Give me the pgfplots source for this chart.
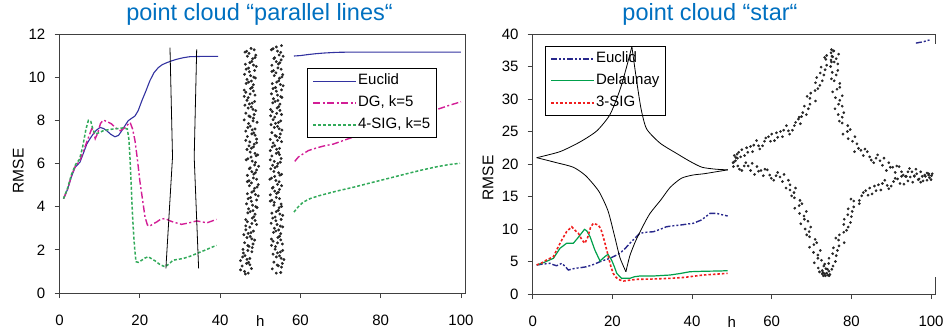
\documentclass[border=0pt]{standalone}
\usepackage{fontspec}
\setmainfont{Liberation Sans}
\usepackage{pgfplots}
\pgfplotsset{compat=1.18}
\definecolor{titleblue}{RGB}{0,112,192}
\definecolor{eucL}{RGB}{50,50,160}
\definecolor{dgmag}{RGB}{210,30,150}
\definecolor{sigG}{RGB}{50,170,90}
\definecolor{eucR}{RGB}{40,40,140}
\definecolor{delG}{RGB}{0,160,75}
\definecolor{sigR}{RGB}{240,30,30}
\tikzset{
  sEucL/.style={line width=1.1pt, draw=eucL},
  sDG/.style={dash pattern=on 7pt off 2.5pt on 2pt off 2.5pt, line width=1.4pt, draw=dgmag},
  sSigG/.style={dash pattern=on 3pt off 2pt, line width=1.5pt, draw=sigG},
  sEucR/.style={dash pattern=on 6pt off 2pt on 2pt off 2pt on 2pt off 2pt, line width=1.4pt, draw=eucR},
  sDel/.style={line width=1.2pt, draw=delG},
  sSigR/.style={dash pattern=on 2.5pt off 2pt, line width=1.6pt, draw=sigR},
}
\pgfplotsset{
  common/.style={
    scale only axis, anchor=south west, xmin=0, xmax=101,
    axis line style={black!75, line width=0.9pt},
    tick style={black!75, line width=0.9pt},
    tick align=outside, major tick length=5pt,
    xtick pos=bottom, ytick pos=left,
    xtick={0,20,40,60,80,100},
    extra x ticks={50}, extra x tick labels={h},
    extra x tick style={tick style={draw=none}},
    ticklabel style={font=\fontsize{15}{18}\selectfont, text=black},
    /pgf/number format/assume math mode=true,
    xticklabel style={anchor=north, inner sep=0pt, yshift=-17pt},
    yticklabel style={anchor=east, inner sep=0pt, xshift=-9pt},
    label style={font=\fontsize{15.5}{18}\selectfont},
    title style={anchor=base, inner sep=0pt, yshift=7.3pt,
      font=\fontsize{23.5}{28}\selectfont, text=titleblue},
    legend cell align=left,
  },
  legbox/.style={
    line width=0.8pt, fill=white,
    font=\fontsize{15}{18}\selectfont,
    inner xsep=5pt, inner ysep=4.5pt, row sep=6pt,
    nodes={inner sep=1pt, text height=10.8pt, text depth=3.2pt},
  },
  cloud/.style={only marks, mark=*, mark size=1.25pt, draw=black!85, fill=black!85, forget plot},
  limg/.style={legend image code/.code={\draw[#1] (0pt,0pt) -- (43pt,0pt);}},
}
\begin{document}
\begin{tikzpicture}
\path[use as bounding box] (0,0) rectangle (946pt,330pt);
% ---------------- left panel ----------------
\begin{axis}[common, at={(59.5pt,37pt)}, width=405.5pt, height=259pt,
  ymin=0, ymax=12, ytick={0,2,4,6,8,10,12},
  title={point cloud “parallel lines“}, title style={at={(0.4932,1)}},
  ylabel={RMSE}, ylabel style={at={(axis description cs:-0.1016,0.471)}, anchor=center},
  legend style={legbox, at={(0.611,0.8676)}, anchor=north west},
]
\addplot[sEucL, limg=sEucL] coordinates {
(1,4.37) (2,4.8) (3,5.4) (3.9,5.83) (5.1,6.06) (6,6.5) (6.8,6.9) (7.6,7.15) (8.4,7.37) (9.2,7.55) (10.1,7.67) (11,7.62) (11.75,7.52) (12.8,7.35) (13.8,7.24) (14.7,7.3) (15.5,7.52) (16.3,7.75) (17.1,7.98) (18,8.1) (18.8,8.2) (19.6,8.45) (20.5,8.9) (21.5,9.35) (22.5,9.83) (23.5,10.2) (24.6,10.44) (25.6,10.58) (26.7,10.67) (28,10.76) (29.2,10.83) (30.8,10.9) (32.5,10.95) (35,10.96) (39.5,10.96)};
\addlegendentry{Euclid}
\addplot[sDG, limg=sDG] coordinates {
(1,4.37) (2,4.8) (3,5.45) (4,5.9) (5,6.1) (6,6.6) (7,7.1) (8,7.6) (8.5,7.45) (8.9,7.15) (9.5,7.4) (10.2,7.85) (10.9,8.01) (11.8,7.95) (13,7.83) (14,7.65) (15.1,7.52) (16,7.62) (16.7,7.75) (17.6,7.9) (18.2,7.6) (18.8,7.06) (19.4,6.2) (20,5.21) (20.7,4.3) (21.3,3.52) (21.9,3.15) (22.4,3.09) (23.3,3.2) (24.2,3.29) (25.2,3.42) (26.3,3.45) (27.3,3.36) (28.3,3.29) (30.4,3.18) (32.3,3.25) (34.2,3.34) (36.7,3.25) (39.1,3.41)};
\addlegendentry{DG, k=5}
\addplot[sSigG, limg=sSigG] coordinates {
(1,4.37) (2,4.85) (3,5.5) (4,5.95) (5,6.2) (5.8,6.8) (6.6,7.6) (7.2,8.0) (7.8,7.95) (8.3,7.6) (8.84,7.37) (9.8,7.42) (10.9,7.52) (12,7.56) (13.4,7.6) (14.6,7.62) (15.9,7.65) (16.9,7.6) (17.3,7.1) (17.55,6.29) (17.8,5.3) (17.98,4.44) (18.2,3.6) (18.4,2.9) (18.7,2.1) (19.05,1.45) (19.6,1.42) (20.5,1.52) (21.3,1.62) (22.1,1.68) (23,1.58) (23.8,1.49) (25,1.32) (26.3,1.21) (27.3,1.35) (28.3,1.52) (30.8,1.6) (32.5,1.7) (34.2,1.83) (36.7,2.02) (39.1,2.21)};
\addlegendentry{4-SIG, k=5}
\addplot[sEucL, forget plot] coordinates {
(58.4,10.98) (60,11.0) (62,11.05) (64,11.09) (66,11.12) (69,11.15) (72,11.16) (100,11.16)};
\addplot[sDG, forget plot] coordinates {
(58.6,6.1) (59.5,6.3) (60.7,6.45) (62,6.6) (64,6.72) (66,6.82) (68.2,6.9) (72,7.15) (76,7.4) (80,7.65) (84,7.9) (88,8.15) (91,8.33) (94.3,8.52) (97,8.69) (100,8.86)};
\addplot[sSigG, forget plot] coordinates {
(58.4,3.75) (59.5,4.0) (60.7,4.21) (62.5,4.38) (64.9,4.52) (69,4.72) (73.2,4.9) (77,5.08) (81.5,5.29) (85.5,5.48) (89.8,5.68) (94,5.85) (97,5.95) (99.75,6.01)};
% sketch of two lines
\addplot[draw=black, line width=0.8pt, forget plot] coordinates {(27.52,11.37) (28.15,6.3) (26.5,1.14)};
\addplot[draw=black, line width=0.8pt, forget plot] coordinates {(34.17,11.29) (33.55,6.3) (34.65,1.14)};
% point cloud band 1
\addplot[cloud] coordinates {
(46.6,11.20) (47.7,11.33) (48.5,11.27) (47.2,11.10) (48.9,11.02) (46.2,11.16) (48.1,10.85) (46.8,10.97) (48.7,10.91)
(46.3,10.60) (47.9,10.73) (47.4,10.67) (49.0,10.50) (47.1,10.42) (48.3,10.56) (47.3,10.25) (46.5,10.37) (48.6,10.31)
(48.4,10.00) (46.1,10.13) (47.6,10.07) (46.7,9.90) (47.8,9.82) (48.8,9.96) (48.3,9.65) (47.1,9.77) (46.5,9.71)
(46.0,9.40) (48.0,9.53) (47.6,9.47) (46.4,9.30) (47.5,9.22) (48.3,9.36) (47.0,9.05) (48.7,9.17) (46.0,9.11)
(48.0,8.80) (46.7,8.93) (48.6,8.87) (46.2,8.70) (47.8,8.62) (47.3,8.76) (48.9,8.45) (47.0,8.57) (48.2,8.51)
(47.2,8.20) (46.4,8.33) (48.5,8.27) (48.3,8.10) (46.0,8.02) (47.5,8.16) (47.1,7.85) (48.2,7.97) (49.2,7.91)
(48.7,7.60) (47.5,7.73) (46.9,7.67) (46.4,7.50) (48.4,7.42) (48.0,7.56) (46.8,7.25) (47.9,7.37) (48.7,7.31)
(47.4,7.00) (49.1,7.13) (46.4,7.07) (48.5,6.90) (47.2,6.82) (49.1,6.96) (46.7,6.65) (48.3,6.77) (47.8,6.71)
(49.4,6.40) (47.5,6.53) (48.7,6.47) (47.7,6.30) (46.9,6.22) (49.0,6.36) (48.8,6.05) (46.5,6.17) (48.0,6.11)
(47.5,5.80) (48.6,5.93) (49.6,5.87) (49.1,5.70) (47.9,5.62) (47.3,5.76) (46.8,5.45) (48.8,5.57) (48.4,5.51)
(47.2,5.20) (48.3,5.33) (49.1,5.27) (47.8,5.10) (49.5,5.02) (46.8,5.16) (48.6,4.85) (47.3,4.97) (49.2,4.91)
(46.8,4.60) (48.4,4.73) (47.9,4.67) (49.5,4.50) (47.6,4.42) (48.8,4.56) (47.8,4.25) (47.0,4.37) (49.1,4.31)
(48.9,4.00) (46.6,4.13) (48.1,4.07) (47.1,3.90) (48.2,3.82) (49.2,3.96) (48.7,3.65) (47.5,3.77) (46.9,3.71)
(46.4,3.40) (48.4,3.53) (48.0,3.47) (46.8,3.30) (47.9,3.22) (48.7,3.36) (47.4,3.05) (49.1,3.17) (46.4,3.11)
(47.7,2.80) (46.4,2.93) (48.3,2.87) (45.9,2.70) (47.5,2.62) (47.0,2.76) (48.6,2.45) (46.7,2.57) (47.9,2.51)
(46.9,2.20) (46.1,2.33) (48.2,2.27) (48.0,2.10) (45.7,2.02) (47.2,2.16) (45.8,1.85) (46.9,1.97) (47.9,1.91)
(47.4,1.60) (46.2,1.73) (45.6,1.67) (45.1,1.50) (47.1,1.42) (46.7,1.56) (45.5,1.25) (46.6,1.37) (47.4,1.31)
(46.1,1.00) (47.8,1.13) (45.1,1.07) (46.3,0.88) (47.0,0.92)};
% point cloud band 2
\addplot[cloud] coordinates {
(54.0,11.40) (53.2,11.32) (55.3,11.46) (55.1,11.15) (52.8,11.27) (54.3,11.21) (53.6,10.90) (54.7,11.03) (55.7,10.97)
(55.2,10.80) (54.0,10.72) (53.4,10.86) (52.9,10.55) (54.9,10.67) (54.5,10.61) (53.3,10.30) (54.4,10.43) (55.2,10.37)
(53.9,10.20) (55.6,10.12) (52.9,10.26) (54.8,9.95) (53.5,10.07) (55.4,10.01) (53.0,9.70) (54.6,9.83) (54.1,9.77)
(55.7,9.60) (53.8,9.52) (55.0,9.66) (54.0,9.35) (53.2,9.47) (55.3,9.41) (55.1,9.10) (52.8,9.23) (54.3,9.17)
(53.3,9.00) (54.4,8.92) (55.4,9.06) (54.9,8.75) (53.7,8.87) (53.1,8.81) (52.6,8.50) (54.6,8.63) (54.2,8.57)
(53.0,8.40) (54.1,8.32) (54.9,8.46) (53.6,8.15) (55.3,8.27) (52.6,8.21) (54.5,7.90) (53.2,8.03) (55.1,7.97)
(52.7,7.80) (54.3,7.72) (53.8,7.86) (55.4,7.55) (53.5,7.67) (54.7,7.61) (53.7,7.30) (52.9,7.43) (55.0,7.37)
(54.8,7.20) (52.5,7.12) (54.0,7.26) (53.2,6.95) (54.3,7.07) (55.3,7.01) (54.8,6.70) (53.6,6.83) (53.0,6.77)
(52.5,6.60) (54.5,6.52) (54.1,6.66) (52.9,6.35) (54.0,6.47) (54.8,6.41) (53.5,6.10) (55.2,6.23) (52.5,6.17)
(54.4,6.00) (53.1,5.92) (55.0,6.06) (52.6,5.75) (54.2,5.87) (53.7,5.81) (55.3,5.50) (53.4,5.63) (54.6,5.57)
(53.6,5.40) (52.8,5.32) (54.9,5.46) (54.7,5.15) (52.4,5.27) (53.9,5.21) (53.2,4.90) (54.3,5.03) (55.3,4.97)
(54.8,4.80) (53.6,4.72) (53.0,4.86) (52.5,4.55) (54.5,4.67) (54.1,4.61) (52.9,4.30) (54.0,4.43) (54.8,4.37)
(53.5,4.20) (55.2,4.12) (52.5,4.26) (54.7,3.95) (53.4,4.07) (55.3,4.01) (52.9,3.70) (54.5,3.83) (54.0,3.77)
(55.6,3.60) (53.7,3.52) (54.9,3.66) (53.9,3.35) (53.1,3.47) (55.2,3.41) (55.0,3.10) (52.7,3.23) (54.2,3.17)
(53.5,3.00) (54.6,2.92) (55.6,3.06) (55.1,2.75) (53.9,2.87) (53.3,2.81) (52.8,2.50) (54.8,2.63) (54.4,2.57)
(53.2,2.40) (54.3,2.32) (55.1,2.46) (53.8,2.15) (55.5,2.27) (52.8,2.21) (55.0,1.90) (53.7,2.03) (55.6,1.97)
(53.2,1.80) (54.8,1.72) (54.3,1.86) (55.9,1.55) (54.0,1.67) (55.2,1.61) (54.2,1.30) (53.4,1.43) (55.5,1.37)
(55.3,1.20) (53.0,1.12) (54.5,1.26) (54.0,0.92) (55.1,0.95)};
\end{axis}
% ---------------- right panel ----------------
\begin{axis}[common, at={(532.7pt,36pt)}, width=402.3pt, height=260pt,
  ymin=0, ymax=40, ytick={0,5,10,15,20,25,30,35,40},
  title={point cloud “star“}, title style={at={(0.4407,1)}},
  ylabel={RMSE}, ylabel style={at={(axis description cs:-0.111,0.446)}, anchor=center},
  legend style={legbox, at={(0.0306,0.954)}, anchor=north west},
]
\addplot[sEucR, limg=sEucR] coordinates {
(1,4.46) (2.5,4.6) (4.35,4.72) (5.2,4.5) (6,4.35) (7.3,4.72) (8.2,4.2) (8.95,3.69) (10.6,3.95) (12,4.05) (13.6,4.2) (15.3,4.55) (16.9,4.97) (18.2,5.25) (19.4,5.49) (20.6,5.85) (21.9,6.26) (23.2,7.0) (24.4,7.8) (25.7,8.6) (26.9,9.34) (28.5,9.5) (30.3,9.58) (32,9.95) (33.6,10.35) (35.3,10.5) (37,10.6) (38.7,10.75) (40.3,10.87) (42.4,11.4) (44.5,12.4) (46.2,12.4) (47.5,12.2) (48.95,12.0)};
\addlegendentry{Euclid}
\addplot[sDel, limg=sDel] coordinates {
(1,4.46) (3,4.9) (5.2,5.49) (6.85,7.03) (8.5,7.8) (10.2,7.8) (11.45,8.72) (13.0,9.95) (13.6,9.7) (14.4,8.82) (15.6,6.77) (16.9,5.08) (18.1,5.74) (18.9,6.1) (19.8,5.23) (20.5,4.2) (21.1,3.18) (22.3,2.41) (24.4,2.41) (25.5,2.65) (26.9,2.77) (30.3,2.77) (34.5,2.92) (37,3.15) (39.5,3.43) (43,3.5) (47,3.54) (48.95,3.59)};
\addlegendentry{Delaunay}
\addplot[sSigR, limg=sSigR] coordinates {
(1,4.46) (2.3,4.8) (3.5,5.23) (5.2,5.74) (6.0,6.77) (7.3,8.3) (8.5,9.58) (9.8,10.35) (10.6,9.8) (11.5,9.3) (12.4,8.3) (13.1,7.8) (13.8,8.7) (14.5,10.2) (15.2,10.87) (16.5,10.6) (17.1,10.0) (17.7,8.82) (18.4,7.2) (19.0,5.74) (19.6,4.3) (20.2,3.18) (21.0,2.5) (21.9,2.15) (22.8,2.0) (24,2.1) (26.1,2.26) (30,2.3) (34.5,2.41) (38,2.55) (42.8,2.92) (46,3.05) (48.95,3.18)};
\addlegendentry{3-SIG}
\addplot[sEucR, forget plot] coordinates {
(96.2,38.6) (98,38.8) (100,39.15)};
\end{axis}
% overlay: star sketch and star point cloud
\begin{axis}[scale only axis, anchor=south west, at={(532.7pt,36pt)}, width=402.3pt, height=260pt,
  xmin=0, xmax=101, ymin=0, ymax=40, hide axis, clip=false]
\addplot[fill=white, draw=none, forget plot] coordinates {(49.6,2.6) (102,2.6) (102,38.4) (49.6,38.4)} -- cycle;
\addplot[draw=black, line width=0.8pt, smooth, tension=0.4, forget plot] coordinates {
(1,20.97) (6.85,21.9) (11.9,23.4) (16.1,25.1) (19.4,27.6) (21.9,31.4) (23.6,35.0) (24.9,38.05)};
\addplot[draw=black, line width=0.8pt, smooth, tension=0.4, forget plot] coordinates {
(24.9,38.05) (26.0,33.2) (27.2,28.5) (28.6,25.4) (32.0,23.2) (36.2,21.6) (39.5,20.4) (42.5,19.5) (46,19.2) (49,19.1)};
\addplot[draw=black, line width=0.8pt, smooth, tension=0.4, forget plot] coordinates {
(1,20.97) (6.0,20.2) (10.2,19.5) (13.3,18.2) (16.6,15.8) (18.9,12.8) (20.6,8.8) (21.9,5.6) (23.4,3.43)};
\addplot[draw=black, line width=0.8pt, smooth, tension=0.4, forget plot] coordinates {
(23.4,3.43) (24.4,5.9) (25.8,8.1) (27.6,10.35) (29.45,12.4) (32.2,14.5) (34.5,16.4) (37.3,17.8) (40.2,18.3) (43,18.5) (46,18.8) (49,19.1)};
\addplot[cloud, mark size=1.15pt] coordinates {
(50.5,20.3) (51.0,21.0) (51.3,21.5) (51.7,21.8) (52.2,21.1) (52.5,22.2) (53.2,21.3) (53.7,22.5) (54.0,21.8)
(54.7,22.7) (55.2,21.9) (55.5,22.9) (56.2,23.6) (56.7,22.8) (57.0,22.3) (57.7,22.8) (58.2,23.5) (58.5,24.0)
(59.2,24.2) (59.7,23.5) (60.0,24.6) (60.7,23.6) (61.2,24.8) (61.5,24.1) (62.2,25.0) (62.7,24.2) (63.0,25.2)
(63.7,25.9) (64.2,25.1) (64.5,24.6) (65.2,25.2) (65.7,25.9) (66.0,26.4) (66.7,26.9) (67.2,26.2) (67.5,27.3)
(66.9,27.2) (68.7,27.6) (67.8,27.9) (69.2,28.5) (68.2,28.9) (69.6,29.2) (71.0,29.7) (69.6,30.1) (68.9,30.4)
(69.8,30.9) (70.9,31.3) (71.6,31.6) (72.1,32.1) (71.0,32.5) (72.7,32.8) (71.3,33.3) (73.1,33.7) (72.2,34.0)
(73.4,34.5) (72.4,34.9) (73.8,35.2) (75.0,35.7) (73.6,36.1) (73.3,36.4) (73.8,36.7) (74.9,37.1) (75.6,37.4)
(76.2,36.2) (75.1,36.6) (76.8,36.9) (74.8,35.0) (76.6,35.4) (75.7,35.7) (76.2,33.7) (75.2,34.1) (76.6,34.4)
(77.1,32.4) (75.7,32.8) (75.0,33.1) (75.3,31.1) (76.4,31.5) (77.1,31.8) (77.1,29.8) (76.0,30.2) (77.7,30.5)
(75.9,28.5) (77.7,28.9) (76.8,29.2) (77.7,27.2) (76.7,27.6) (78.1,27.9) (79.1,25.9) (77.7,26.3) (77.0,26.6)
(77.9,24.6) (79.0,25.0) (79.7,25.3) (80.3,23.5) (79.2,23.9) (80.9,24.2)
(80.8,21.9) (81.4,23.1) (81.8,22.4) (82.4,22.1) (83.0,21.3) (83.4,22.3) (84.0,21.9) (84.6,21.1) (85.0,20.6)
(85.6,20.2) (86.2,20.9) (86.6,21.4) (87.2,20.5) (87.8,19.8) (88.2,20.9) (88.8,19.0) (89.4,20.2) (89.8,19.5)
(90.4,19.5) (91.0,18.7) (91.4,19.7) (92.0,19.6) (92.6,18.8) (93.0,18.3) (93.6,18.1) (94.2,18.8) (94.6,19.3)
(95.2,18.8) (95.8,18.1) (96.2,19.2) (96.8,17.6) (97.4,18.8) (97.8,18.1) (98.4,18.3) (99.0,17.5) (99.4,18.5)
(50.9,20.5) (51.5,19.7) (51.9,19.2) (52.5,19.0) (53.1,19.7) (53.5,20.2) (54.1,19.7) (54.7,19.0) (55.1,20.1)
(55.7,18.4) (56.3,19.6) (56.7,18.9) (57.3,19.0) (57.9,18.2) (58.3,19.2) (58.9,19.1) (59.5,18.3) (59.9,17.8)
(60.5,17.5) (61.1,18.2) (61.5,18.7) (62.1,18.0) (62.7,17.3) (63.1,18.4) (63.6,16.3) (64.2,17.5) (64.6,16.8)
(65.6,15.6) (64.6,16.0) (66.0,16.3) (67.1,14.4) (65.7,14.8) (65.0,15.1) (65.8,13.2) (66.9,13.6) (67.6,13.9)
(68.1,12.0) (67.0,12.4) (68.7,12.7) (67.3,10.8) (69.1,11.2) (68.2,11.5) (69.4,9.6) (68.4,10.0) (69.8,10.3)
(70.9,8.4) (69.5,8.8) (68.8,9.1) (69.5,7.2) (70.6,7.6) (71.3,7.9) (71.6,6.0) (70.5,6.4) (72.2,6.7)
(70.7,4.8) (72.5,5.2) (71.6,5.5) (72.7,3.6) (71.7,4.0) (73.1,4.3) (74.1,2.9) (72.7,3.1) (72.0,3.4)
(73.3,3.1) (74.4,3.5) (75.1,3.8) (75.4,4.3) (74.3,4.7) (76.0,5.0) (74.4,5.5) (76.2,5.9) (75.3,6.2)
(76.5,6.7) (75.5,7.1) (76.9,7.4) (78.2,7.9) (76.8,8.3) (76.1,8.6) (77.0,9.1) (78.1,9.5) (78.8,9.8)
(79.2,10.3) (78.1,10.7) (79.8,11.0) (78.2,11.5) (80.0,11.9) (79.1,12.2) (80.2,12.7) (79.2,13.1) (80.6,13.4)
(82.0,13.9) (80.6,14.3) (79.9,14.6) (82.0,14.4) (82.6,15.1) (83.0,15.6) (83.6,15.9) (84.2,15.2) (84.6,16.3)
(85.2,15.4) (85.8,16.6) (86.2,15.9) (86.8,16.8) (87.4,16.0) (87.8,17.0) (88.4,17.5) (89.0,16.7) (89.4,16.2)
(90.0,16.6) (90.6,17.3) (91.0,17.8) (91.6,17.7) (92.2,17.0) (92.6,18.1) (93.2,16.9) (93.8,18.1) (94.2,17.4)
(94.8,18.0) (95.4,17.2) (95.8,18.2) (96.4,18.5) (97.0,17.7) (97.4,17.2) (98.0,17.4) (98.6,18.1) (99.0,18.6)
(99.4,18.3) (100.0,17.6) (100.3,18.5)
(73.5,2.8) (74.0,3.8) (73.3,4.6) (74.4,2.8) (73.8,3.2) (72.9,3.3) (73.0,2.8) (74.6,3.0) (73.6,3.9)
(50.3,20.2) (50.6,21.3) (51.4,20.9) (50.4,19.6) (75.3,36.5) (74.9,36.0) (75.5,37.4) (75.0,37.6) (99.6,17.9) (100.1,18.2)};
\end{axis}
\end{tikzpicture}
\end{document}
